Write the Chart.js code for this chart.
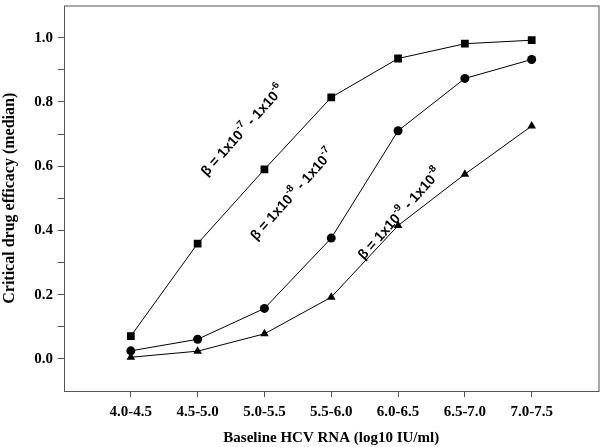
<!DOCTYPE html>
<html>
<head>
<meta charset="utf-8">
<script src="https://cdn.jsdelivr.net/npm/chart.js@4.4.0/dist/chart.umd.min.js"></script>
<style>
  html, body { margin: 0; padding: 0; background: #fff; }
  #wrap { width: 604px; height: 447px; }
</style>
</head>
<body>
<div id="wrap"><canvas id="efficacyChart" width="604" height="447"></canvas></div>
<script>
const categories = ["4.0-4.5", "4.5-5.0", "5.0-5.5", "5.5-6.0", "6.0-6.5", "6.5-7.0", "7.0-7.5"];

// beta = 1x10^-7 - 1x10^-6 (squares)
const betaHigh = [0.071, 0.359, 0.590, 0.814, 0.935, 0.981, 0.992];
// beta = 1x10^-8 - 1x10^-7 (circles)
const betaMid = [0.025, 0.061, 0.157, 0.376, 0.710, 0.873, 0.932];
// beta = 1x10^-9 - 1x10^-8 (triangles)
const betaLow = [0.005, 0.024, 0.078, 0.192, 0.415, 0.575, 0.725];

const yTicks = [0, 0.1, 0.2, 0.3, 0.4, 0.5, 0.6, 0.7, 0.8, 0.9, 1.0];
const yLabelled = [0, 0.2, 0.4, 0.6, 0.8, 1.0];

// label text + where it sits (category index, value)
const curveLabels = [
  { parts: [["β = 1x10", 0], ["-7", 1], [" - 1x10", 0], ["-6", 1]], x: 1.68, y: 0.71 },
  { parts: [["β = 1x10", 0], ["-8", 1], [" - 1x10", 0], ["-7", 1]], x: 2.42, y: 0.51 },
  { parts: [["β = 1x10", 0], ["-9", 1], [" - 1x10", 0], ["-8", 1]], x: 4.03, y: 0.45 }
];

const toPoints = arr => arr.map((v, i) => ({ x: i, y: v }));

const serif = "'Liberation Serif', 'Times New Roman', serif";

const frame = {
  id: "frame",
  afterDraw(chart) {
    const { ctx, chartArea: a } = chart;
    ctx.save();
    ctx.strokeStyle = "#555";
    ctx.lineWidth = 1;
    ctx.strokeRect(a.left + 0.5, a.top + 0.5, a.right - a.left, a.bottom - a.top);
    ctx.restore();
  }
};

const betaText = {
  id: "betaText",
  afterDatasetsDraw(chart) {
    const { ctx, scales } = chart;
    const base = "bold 14px 'Liberation Sans', Arial, sans-serif";
    const sup = "bold 10px 'Liberation Sans', Arial, sans-serif";
    curveLabels.forEach(lab => {
      const px = scales.x.getPixelForValue(lab.x);
      const py = scales.y.getPixelForValue(lab.y);
      let total = 0;
      lab.parts.forEach(([t, s]) => {
        ctx.font = s ? sup : base;
        total += ctx.measureText(t).width;
      });
      ctx.save();
      ctx.translate(px, py);
      ctx.rotate(-48 * Math.PI / 180);
      ctx.fillStyle = "#000";
      ctx.textBaseline = "middle";
      let cx = -total / 2;
      lab.parts.forEach(([t, s]) => {
        ctx.font = s ? sup : base;
        ctx.fillText(t, cx, s ? -6 : 0);
        cx += ctx.measureText(t).width;
      });
      ctx.restore();
    });
  }
};

const line = (data, style, r) => ({
  data: toPoints(data),
  borderColor: "#000",
  backgroundColor: "#000",
  borderWidth: 1,
  pointStyle: style,
  pointRadius: r,
  pointBorderWidth: 0,
  tension: 0
});

new Chart(document.getElementById("efficacyChart"), {
  type: "line",
  data: {
    datasets: [
      line(betaHigh, "rect", 5.5),
      line(betaMid, "circle", 4.5),
      line(betaLow, "triangle", 5)
    ]
  },
  options: {
    responsive: false,
    animation: false,
    layout: { padding: { top: 4, right: 5, left: 0, bottom: 0 } },
    plugins: { legend: { display: false }, tooltip: { enabled: false } },
    scales: {
      x: {
        type: "linear",
        min: -1,
        max: 7,
        afterBuildTicks: s => { s.ticks = categories.map((c, i) => ({ value: i })); },
        afterFit: s => { s.height = 56; s.paddingLeft = 0; s.paddingRight = 0; },
        border: { display: false },
        grid: { drawOnChartArea: false, tickLength: 6, color: "#555" },
        ticks: {
          autoSkip: false,
          maxRotation: 0,
          padding: 6,
          color: "#000",
          font: { family: serif, size: 15, weight: "bold" },
          callback: v => categories[v] ?? ""
        },
        title: {
          display: true,
          text: "Baseline HCV RNA (log10 IU/ml)",
          color: "#000",
          font: { family: serif, size: 15, weight: "bold" },
          padding: { top: 2, bottom: 0 }
        }
      },
      y: {
        min: -0.1,
        max: 1.1,
        afterBuildTicks: s => { s.ticks = yTicks.map(v => ({ value: v })); },
        afterFit: s => { s.width = 64; s.paddingTop = 0; s.paddingBottom = 0; },
        border: { display: false },
        grid: { drawOnChartArea: false, tickLength: 6, color: "#555" },
        ticks: {
          padding: 5,
          color: "#000",
          font: { family: serif, size: 15, weight: "bold" },
          callback: v => yLabelled.some(t => Math.abs(t - v) < 1e-6) ? v.toFixed(1) : ""
        },
        title: {
          display: true,
          text: "Critical drug efficacy (median)",
          color: "#000",
          font: { family: serif, size: 16, weight: "bold" },
          padding: { top: 0, bottom: 0 }
        }
      }
    }
  },
  plugins: [frame, betaText]
});
</script>
</body>
</html>
